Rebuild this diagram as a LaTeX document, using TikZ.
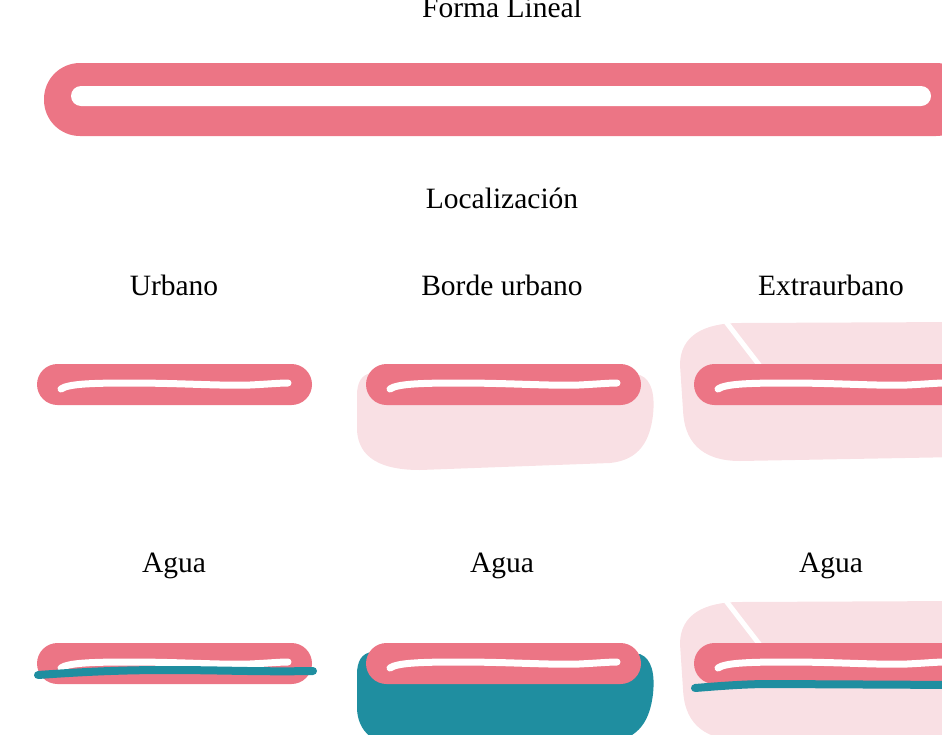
\documentclass[tikz,border=0pt]{standalone}
\usepackage{fontspec}
\setmainfont{Liberation Serif}
\definecolor{rosa}{RGB}{236,117,133}
\definecolor{rosaclaro}{RGB}{249,224,228}
\definecolor{agua}{RGB}{31,142,160}
\tikzset{
  etiqueta/.style={anchor=base, inner sep=0pt, font=\fontsize{29.5}{35}\selectfont},
  banda/.style={fill=rosa, rounded corners=20.5pt},
  hilo/.style={white, line width=7pt, line cap=round},
  rio/.style={agua, line width=8pt, line cap=round},
  camino/.style={white, line width=5pt},
}
% tubo: x, y, largo
\newcommand{\tubo}[3]{%
  \begin{scope}[shift={(#1,#2)}]
    \fill[banda] (0,0) rectangle (#3,41);
    \draw[hilo] (24,25) .. controls (31,20) and (53,19) .. (93,19)
      .. controls (143,19) and (183,22) .. (213,21)
      .. controls (233,20) and (243,19) .. (251,19) -- (#3-24,19);
  \end{scope}}
\begin{document}
\begin{tikzpicture}[x=1pt, y=-1pt]
  \useasboundingbox (0,0) rectangle (942,734);
  \clip (0,0) rectangle (942,734);

  % forma lineal
  \node[etiqueta] (forma) at (502,17) {Forma Lineal};
  \fill[rosa, rounded corners=36pt] (44,63) rectangle (972,136);
  \fill[white, rounded corners=10pt] (71,86) rectangle (931,106);

  % localizacion
  \node[etiqueta] (loc) at (502,208) {Localización};
  \node[etiqueta] (urbano) at (174,295) {Urbano};
  \node[etiqueta] (borde) at (502,295) {Borde urbano};
  \node[etiqueta] (extra) at (831,295) {Extraurbano};

  \tubo{37}{364}{275}

  \fill[rosaclaro] (372,373) -- (640,375) .. controls (652,380) and (655,395) .. (653,415)
    .. controls (650,440) and (640,460) .. (610,463) -- (420,470)
    .. controls (370,470) and (358,450) .. (357,430) -- (357,395)
    .. controls (357,382) and (362,374) .. (372,373) -- cycle;
  \tubo{366}{364}{275}

  \fill[rosaclaro] (680,365) .. controls (680,335) and (705,323) .. (740,323) -- (960,322)
    -- (960,457) -- (740,461) .. controls (700,461) and (684,440) .. (683,410) -- cycle;
  \draw[camino] (723,318) -- (760,366);
  \tubo{694}{364}{300}

  % agua
  \node[etiqueta] (agua1) at (174,572) {Agua};
  \node[etiqueta] (agua2) at (502,572) {Agua};
  \node[etiqueta] (agua3) at (831,572) {Agua};

  \tubo{37}{643}{275}
  \draw[rio] (38,675) .. controls (80,672) and (120,670) .. (167,670)
    .. controls (220,670) and (260,672) .. (313,671);

  \begin{scope}[shift={(0,279)}]
    \fill[agua] (372,373) -- (640,375) .. controls (652,380) and (655,395) .. (653,415)
      .. controls (650,440) and (640,460) .. (610,463) -- (420,470)
      .. controls (370,470) and (358,450) .. (357,430) -- (357,395)
      .. controls (357,382) and (362,374) .. (372,373) -- cycle;
  \end{scope}
  \tubo{366}{643}{275}

  \begin{scope}[shift={(0,279)}]
    \fill[rosaclaro] (680,365) .. controls (680,335) and (705,323) .. (740,323) -- (960,322)
      -- (960,457) -- (740,461) .. controls (700,461) and (684,440) .. (683,410) -- cycle;
    \draw[camino] (723,318) -- (760,366);
  \end{scope}
  \tubo{694}{643}{300}
  \draw[rio] (695,688) .. controls (720,686) and (745,684) .. (770,684) -- (960,685);
\end{tikzpicture}
\end{document}
